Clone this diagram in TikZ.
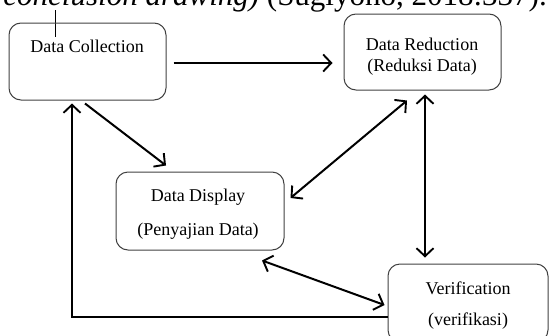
\documentclass[tikz,border=0pt]{standalone}
\usepackage{fontspec}
\setmainfont{Liberation Serif}
\usetikzlibrary{arrows.meta,calc}
\begin{document}
\begin{tikzpicture}[x=1pt,y=-1pt,
  box/.style={draw=black!75, line width=1pt, rounded corners=12pt, inner sep=0pt},
  lbl/.style={font=\fontsize{18}{21}\selectfont, inner sep=0pt},
  tip/.tip={Straight Barb[length=8pt,width=17pt,line width=1.9pt]},
  arr/.style={line width=2pt, -tip},
  darr/.style={line width=2pt, tip-tip}]
\useasboundingbox (0,0) rectangle (549,335);
\clip (0,0) rectangle (549,335);
% cut-off caption text at top
\node[font=\fontsize{31}{35}\selectfont, inner sep=0pt, anchor=base east] (cap) at (547,5)
  {{\itshape conclusion drawing)} (Sugiyono, 2018:337).};
\draw[line width=0.8pt] (55,10) -- (55,37);
% boxes
\node[box, minimum width=157pt, minimum height=77pt] (dc) at (87.5,61.5) {};
\node[box, minimum width=157pt, minimum height=76pt] (dr) at (422.5,52) {};
\node[box, minimum width=168pt, minimum height=78pt] (dd) at (200,211) {};
\node[box, minimum width=160pt, minimum height=78pt] (vf) at (468,303) {};
% labels
\node[lbl] (tdc) at (87,46) {Data Collection};
\node[lbl] (tdr1) at (422,44) {Data Reduction};
\node[lbl] (tdr2) at (422,67) {(Reduksi Data)};
\node[lbl] (tdd1) at (198,197) {Data Display};
\node[lbl] (tdd2) at (198,231) {(Penyajian Data)};
\node[lbl] (tvf1) at (468,288) {Verification};
\node[lbl] (tvf2) at (468,321) {(verifikasi)};
% connectors
\draw[arr] ($(dc.east)+(7,1.5)$) -- ($(dr.west)+(-11,11)$);
\draw[arr] ($(dc.south)+(-2.5,3)$) -- ($(dd.north)+(-34,-6)$);
\draw[darr] ($(dd.east)+(6,-13)$) -- ($(dr.south)+(-15.5,10)$);
\draw[darr] ($(dr.south)+(2.5,4)$) -- ($(vf.north)+(-43,-6)$);
\draw[darr] ($(dd.south)+(62,10)$) -- ($(vf.west)+(-3,2)$);
\draw[arr] ($(vf.west)+(0,14)$) -| ($(dc.south)+(-15.5,3)$);
\end{tikzpicture}
\end{document}
